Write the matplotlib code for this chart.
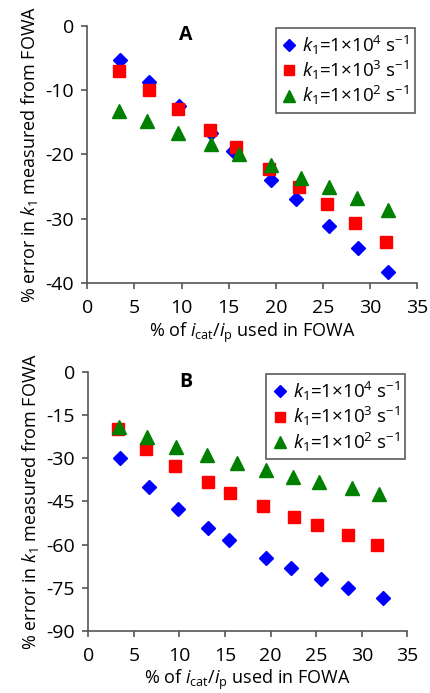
import matplotlib
matplotlib.use("Agg")
import matplotlib.pyplot as plt

plt.rcParams['font.family'] = ['Open Sans', 'DejaVu Sans']
plt.rcParams['mathtext.fontset'] = 'custom'
plt.rcParams['mathtext.rm'] = 'Open Sans'
plt.rcParams['mathtext.it'] = 'Open Sans:italic'
plt.rcParams['mathtext.bf'] = 'Open Sans:bold'
plt.rcParams['axes.unicode_minus'] = False

# panel A data
xa_k4 = [3.5, 6.6, 9.7, 13.1, 15.5, 19.5, 22.1, 25.6, 28.7, 31.9]
ya_k4 = [-5.3, -8.8, -12.5, -16.7, -19.4, -24.0, -27.0, -31.1, -34.5, -38.3]
xa_k3 = [3.4, 6.5, 9.6, 13.0, 15.8, 19.3, 22.5, 25.4, 28.4, 31.7]
ya_k3 = [-7.0, -10.0, -12.9, -16.2, -18.9, -22.2, -25.1, -27.7, -30.6, -33.6]
xa_k2 = [3.4, 6.3, 9.6, 13.1, 16.1, 19.5, 22.7, 25.6, 28.6, 31.9]
ya_k2 = [-13.2, -14.8, -16.6, -18.4, -19.9, -21.7, -23.6, -25.1, -26.8, -28.6]

# panel B data
xb_k4 = [3.5, 6.7, 9.8, 13.1, 15.4, 19.5, 22.2, 25.5, 28.5, 32.3]
yb_k4 = [-29.7, -39.8, -47.5, -54.4, -58.4, -64.8, -68.1, -72.0, -75.1, -78.7]
xb_k3 = [3.3, 6.3, 9.5, 13.1, 15.6, 19.2, 22.6, 25.1, 28.5, 31.7]
yb_k3 = [-19.9, -26.7, -32.5, -38.3, -41.9, -46.5, -50.5, -53.2, -56.8, -60.2]
xb_k2 = [3.4, 6.4, 9.6, 13.0, 16.3, 19.5, 22.5, 25.3, 28.9, 31.9]
yb_k2 = [-19.2, -22.6, -25.9, -28.8, -31.7, -33.9, -36.4, -38.1, -40.4, -42.5]

labels = [r'$\mathit{k}_1$=1×10$^4$ s$^{−1}$',
          r'$\mathit{k}_1$=1×10$^3$ s$^{−1}$',
          r'$\mathit{k}_1$=1×10$^2$ s$^{−1}$']

fig = plt.figure(figsize=(4.3, 6.93), dpi=100)
ax1 = fig.add_axes([0.203, 0.5916, 0.767, 0.371])
ax2 = fig.add_axes([0.2053, 0.0899, 0.742, 0.373])

ylab = r'% error in $\mathit{k}_1$ measured from FOWA'
xlab = r'% of $\mathit{i}_\mathrm{cat}$/$\mathit{i}_\mathrm{p}$ used in FOWA'

panels = [
    (ax1, [(xa_k4, ya_k4), (xa_k3, ya_k3), (xa_k2, ya_k2)], (-40, 0), range(-40, 1, 10), 'A', (10.5, -1.4), 3),
    (ax2, [(xb_k4, yb_k4), (xb_k3, yb_k3), (xb_k2, yb_k2)], (-90, 0), range(-90, 1, 15), 'B', (10.7, -3.3), 2),
]
styles = [('D', '#0000FF', 7), ('s', '#FF0000', 8), ('^', '#008000', 9.5)]

for ax, series, ylim, yticks, tag, tagpos, xpad in panels:
    for (x, y), (m, c, ms), lab in zip(series, styles, labels):
        ax.plot(x, y, linestyle='none', marker=m, color=c, markersize=ms, label=lab)
    ax.set_xlim(0, 35)
    ax.set_ylim(*ylim)
    ax.set_xticks(range(0, 36, 5))
    ax.set_yticks(list(yticks))
    for s in ['top', 'right']:
        ax.spines[s].set_visible(False)
    for s in ['left', 'bottom']:
        ax.spines[s].set_color('#555555')
        ax.spines[s].set_linewidth(1.2)
    ax.tick_params(direction='out', length=4.5, width=1.2, color='#555555', labelsize=14)
    ax.tick_params(axis='x', pad=7)
    ax.tick_params(axis='y', pad=5)
    ax.set_ylabel(ylab, fontsize=13, labelpad=4)
    ax.set_xlabel(xlab, fontsize=13, labelpad=xpad)
    ax.text(tagpos[0], tagpos[1], tag, fontsize=14, fontweight='bold', ha='center', va='center')
    leg = ax.legend(loc='upper right', fontsize=13.5, frameon=True, fancybox=False,
                    edgecolor='#333333', handlelength=0.8, handletextpad=0.3,
                    borderaxespad=0.1, labelspacing=0.12, borderpad=0.3,
                    markerscale=0.85, bbox_to_anchor=(1.0, 1.0))
    leg.get_frame().set_linewidth(1.2)

fig.savefig('out.png', dpi=100)
